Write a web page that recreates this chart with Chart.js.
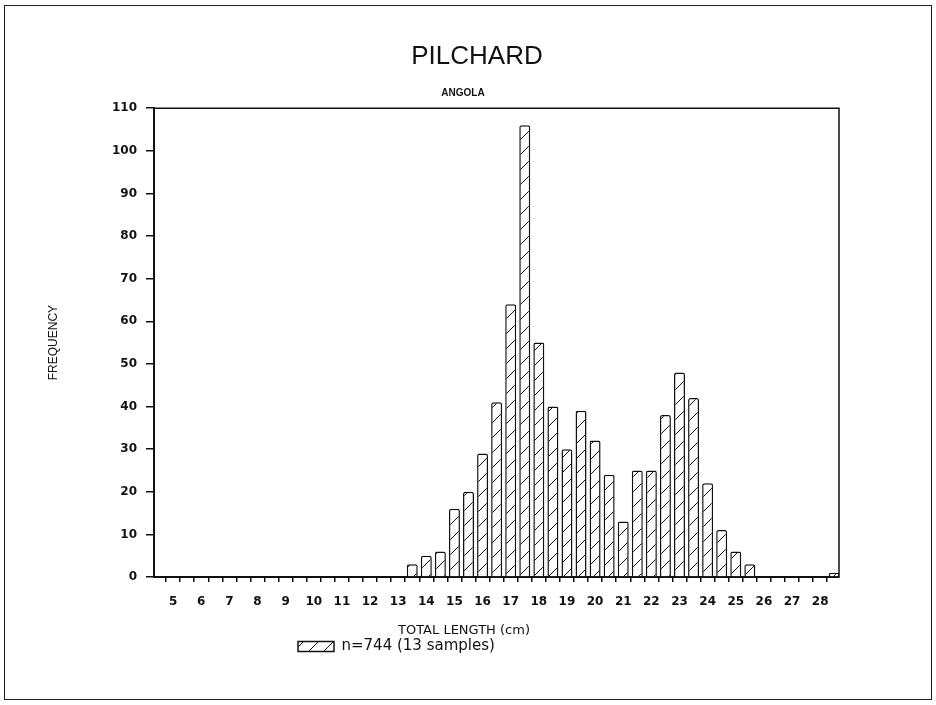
<!DOCTYPE html>
<html>
<head>
<meta charset="utf-8">
<script src="https://cdn.jsdelivr.net/npm/chart.js@4/dist/chart.umd.min.js"></script>
<style>
  html,body{margin:0;padding:0;background:#fff;}
  #wrap{position:relative;width:936px;height:705px;}
  #frame{position:absolute;left:4px;top:5px;width:926px;height:693px;border:1.5px solid #222;pointer-events:none;}
</style>
</head>
<body>
<div id="wrap">
  <canvas id="c" width="936" height="705"></canvas>
  <div id="frame"></div>
</div>
<script>
const TITLE = 'PILCHARD';
const SUBTITLE = 'ANGOLA';
const X_TITLE = 'TOTAL LENGTH (cm)';
const Y_TITLE = 'FREQUENCY';
const SERIES_LABEL = 'n=744 (13 samples)';

// length classes (cm), half-cm bins
const LENGTHS = [4.5,5,5.5,6,6.5,7,7.5,8,8.5,9,9.5,10,10.5,11,11.5,12,12.5,13,
  13.5,14,14.5,15,15.5,16,16.5,17,17.5,18,18.5,19,19.5,20,20.5,21,21.5,22,22.5,
  23,23.5,24,24.5,25,25.5,26,26.5,27,27.5,28,28.5];
const FREQ = [0,0,0,0,0,0,0,0,0,0,0,0,0,0,0,0,0,0,
  3,5,6,16,20,29,41,64,106,55,40,30,39,32,24,13,25,25,38,
  48,42,22,11,6,3,0,0,0,0,0,1];
const X_TICKS = [4.5,5,5.5,6,6.5,7,7.5,8,8.5,9,9.5,10,10.5,11,11.5,12,12.5,13,
  13.5,14,14.5,15,15.5,16,16.5,17,17.5,18,18.5,19,19.5,20,20.5,21,21.5,22,22.5,
  23,23.5,24,24.5,25,25.5,26,26.5,27,27.5,28,28.5];
const Y_TICKS = [0,10,20,30,40,50,60,70,80,90,100,110];

const canvas = document.getElementById('c');
const ctx = canvas.getContext('2d');

function makeHatch() {
  const t = document.createElement('canvas');
  t.width = 15; t.height = 15;
  const g = t.getContext('2d');
  g.fillStyle = '#ffffff';
  g.fillRect(0, 0, 15, 15);
  g.strokeStyle = '#111';
  g.lineWidth = 1;
  g.beginPath();
  g.moveTo(-1, 16); g.lineTo(16, -1);
  g.stroke();
  return ctx.createPattern(t, 'repeat');
}
const hatch = makeHatch();

const INK = '#111';

const layoutShift = {
  id: 'layoutShift',
  afterLayout(chart) {
    const center = (box, cx) => {
      if (!box) return;
      const d = cx - (box.left + box.right) / 2;
      box.left += d; box.right += d;
    };
    center(chart.titleBlock, 477);
    const sub = chart.boxes.find(b => b !== chart.titleBlock && b.options && b.options.text === SUBTITLE);
    center(sub, 463);
    const lg = chart.legend;
    if (lg) { const d = 288 - lg.left; lg.left += d; lg.right += d; }
  }
};

const frameAndTitle = {
  id: 'frameAndTitle',
  afterDraw(chart) {
    const a = chart.chartArea;
    const c = chart.ctx;
    c.save();
    c.strokeStyle = INK;
    c.lineWidth = 1.5;
    c.beginPath();
    c.moveTo(a.left, a.top); c.lineTo(a.right, a.top); c.lineTo(a.right, a.bottom);
    c.stroke();
    c.fillStyle = INK;
    c.font = '13px "DejaVu Sans"';
    c.textAlign = 'center';
    c.textBaseline = 'middle';
    c.fillText(X_TITLE, 464, a.bottom + 54);
    c.restore();
  }
};

new Chart(ctx, {
  type: 'bar',
  data: {
    datasets: [{
      label: SERIES_LABEL,
      data: LENGTHS.map((x, i) => ({x: x, y: FREQ[i]})),
      backgroundColor: hatch,
      borderColor: INK,
      borderWidth: 1.5,
      borderRadius: {topLeft: 2, topRight: 2},
      borderSkipped: 'start',
      categoryPercentage: 1,
      barPercentage: 0.78
    }]
  },
  plugins: [layoutShift, frameAndTitle],
  options: {
    responsive: false,
    animation: false,
    layout: {padding: {left: 10, right: 97, top: 41, bottom: 41}},
    plugins: {
      title: {
        display: true, text: TITLE, color: INK,
        font: {family: '"Liberation Sans", Arial, sans-serif', size: 26, weight: 'normal'},
        padding: {top: 0, bottom: 9}
      },
      subtitle: {
        display: true, text: SUBTITLE, color: INK,
        font: {family: '"Liberation Sans", Arial, sans-serif', size: 10, weight: 'bold'},
        padding: {top: 6, bottom: 9}
      },
      legend: {
        display: true, position: 'bottom', align: 'start',
        labels: {
          boxWidth: 36, boxHeight: 10, padding: 10, color: INK,
          font: {family: '"DejaVu Sans", sans-serif', size: 15}
        }
      },
      tooltip: {enabled: false}
    },
    scales: {
      x: {
        type: 'linear', min: 4.32, max: 28.67, offset: false,
        afterBuildTicks: (s) => { s.ticks = X_TICKS.map(v => ({value: v})); },
        afterFit: (s) => { s.height = 52; },
        ticks: {
          autoSkip: false, maxRotation: 0, minRotation: 0, padding: 13, color: INK,
          font: {family: '"DejaVu Sans", sans-serif', size: 12, weight: 'bold'},
          callback: (v) => Number.isInteger(v) ? String(v) : ''
        },
        grid: {display: true, drawOnChartArea: false, drawTicks: true, tickLength: 5, color: INK, lineWidth: 1.5},
        border: {display: true, color: INK, width: 2}
      },
      y: {
        min: 0, max: 110,
        afterBuildTicks: (s) => { s.ticks = Y_TICKS.map(v => ({value: v})); },
        afterFit: (s) => { s.width = 144; },
        title: {
          display: true, text: Y_TITLE, color: INK,
          font: {family: '"Liberation Sans", Arial, sans-serif', size: 12},
          padding: {top: 36, bottom: 0}
        },
        ticks: {
          padding: 9, color: INK,
          font: {family: '"DejaVu Sans", sans-serif', size: 12, weight: 'bold'}
        },
        grid: {display: true, drawOnChartArea: false, drawTicks: true, tickLength: 8, color: INK, lineWidth: 1.5},
        border: {display: true, color: INK, width: 2}
      }
    }
  }
});
</script>
</body>
</html>
